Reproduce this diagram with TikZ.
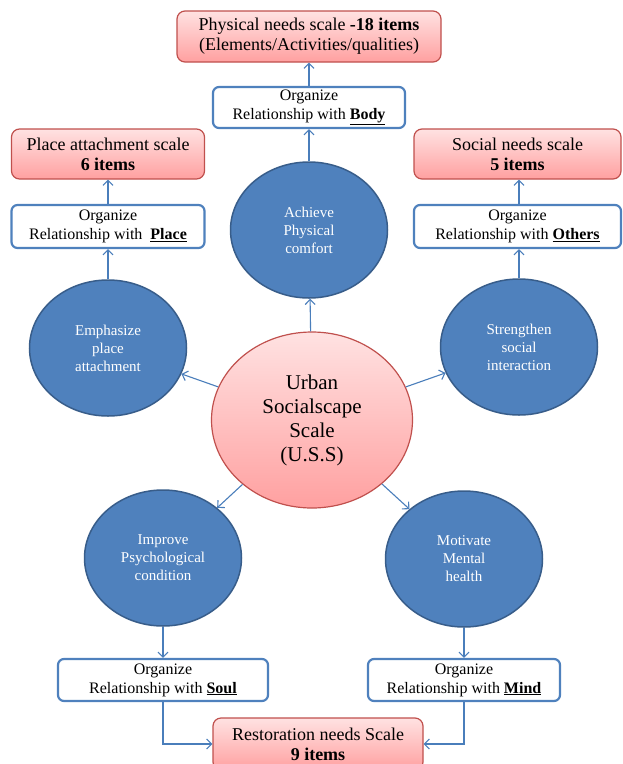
\documentclass[tikz,border=0pt]{standalone}
\usepackage{fontspec}
\setmainfont{Liberation Serif}
\usetikzlibrary{positioning,shapes.geometric,arrows.meta}

\definecolor{bluefill}{HTML}{4F81BD}
\definecolor{blueline}{HTML}{385D8A}
\definecolor{linkblue}{HTML}{4A7EBB}
\definecolor{redline}{HTML}{C0504D}
\definecolor{pinktop}{HTML}{FFE2E2}
\definecolor{pinkbottom}{HTML}{FFA0A0}

\tikzset{
  scalebox/.style={draw=redline, line width=1.2pt, rounded corners=8pt, top color=pinktop, bottom color=pinkbottom,
    align=center, inner sep=0pt, font=\fontsize{18}{20}\selectfont},
  relbox/.style={draw=bluefill, line width=2.2pt, rounded corners=6pt, fill=white,
    align=center, inner sep=0pt, font=\fontsize{16}{19}\selectfont},
  goal/.style={ellipse, draw=blueline, line width=1.5pt, fill=bluefill, text=white, align=center,
    minimum width=157pt, minimum height=136pt, inner sep=0pt, font=\fontsize{15}{18}\selectfont},
  link/.style={draw=linkblue, line width=1.1pt, -{Straight Barb[length=5pt,width=10pt]}}
}

\begin{document}
\begin{tikzpicture}[x=1pt, y=-1pt]
  \useasboundingbox (0,0) rectangle (623,764);

  % Nodo centrale
  \node[ellipse, draw=redline, line width=1.2pt, top color=pinktop, bottom color=pinkbottom, align=center,
    minimum width=201pt, minimum height=176pt, inner sep=0pt, font=\fontsize{21}{24}\selectfont]
    (uss) at (312,420) {Urban\\Socialscape\\Scale\\(U.S.S)};

  % Obiettivi
  \node[goal] (comfort) at (309,230) {Achieve\\Physical\\comfort};
  \node[goal] (attach) at (108,348) {Emphasize\\place\\attachment};
  \node[goal] (social) at (519,347) {Strengthen\\social\\interaction};
  \node[goal] (psycho) at (163,558) {Improve\\Psychological\\condition};
  \node[goal] (mental) at (464,559) {Motivate\\Mental\\health};

  % Relazioni
  \node[relbox, minimum width=192pt, minimum height=41pt] (body) at (309,107.5)
    {Organize\\Relationship with \underline{\textbf{Body}}};
  \node[relbox, minimum width=193pt, minimum height=43pt] (place) at (108,226.5)
    {Organize\\Relationship with\ \ \underline{\textbf{Place}}};
  \node[relbox, minimum width=207pt, minimum height=43pt] (others) at (517.5,226.5)
    {Organize\\Relationship with \underline{\textbf{Others}}};
  \node[relbox, minimum width=210pt, minimum height=42pt] (soul) at (163,680)
    {Organize\\Relationship with \underline{\textbf{Soul}}};
  \node[relbox, minimum width=192pt, minimum height=42pt] (mind) at (464,680)
    {Organize\\Relationship with \underline{\textbf{Mind}}};

  % Scale
  \node[scalebox, minimum width=264pt, minimum height=51pt] (physical) at (309,36.5)
    {Physical needs scale \textbf{-18 items}\\(Elements/Activities/qualities)};
  \node[scalebox, minimum width=193pt, minimum height=50pt] (placescale) at (108,154)
    {Place attachment scale\\\textbf{6 items}};
  \node[scalebox, minimum width=207pt, minimum height=50pt] (socialscale) at (517.5,154)
    {Social needs scale\\\textbf{5 items}};
  \node[scalebox, minimum width=210pt, minimum height=52pt] (restscale) at (318,744)
    {Restoration needs Scale\\\textbf{9 items}};

  % Frecce
  \draw[link] (uss) -- (comfort);
  \draw[link] (uss) -- (attach);
  \draw[link] (uss) -- (social);
  \draw[link] (uss) -- (psycho);
  \draw[link] (uss) -- (mental);
  \draw[link] (comfort) -- (body);
  \draw[link] (body) -- (physical);
  \draw[link] (attach) -- (place);
  \draw[link] (place) -- (placescale);
  \draw[link] (social.north) -- (others.south -| social.north);
  \draw[link] (others.north -| social.north) -- (socialscale.south -| social.north);
  \draw[link] (psycho) -- (soul);
  \draw[link] (mental) -- (mind);
  \draw[link] (soul.south) |- (restscale.west);
  \draw[link] (mind.south) |- (restscale.east);
\end{tikzpicture}
\end{document}
